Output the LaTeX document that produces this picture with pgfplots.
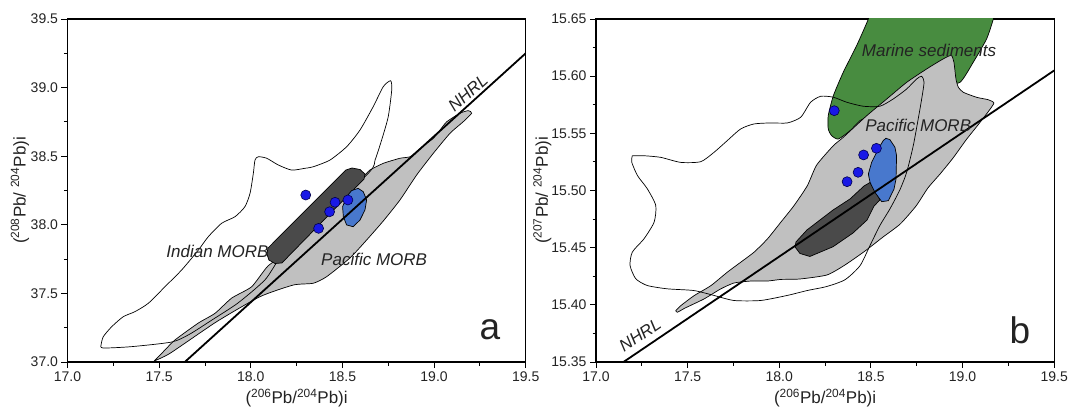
\documentclass[border=0pt]{standalone}
\usepackage{fontspec}
\setmainfont{Liberation Sans}
\usepackage{pgfplots}
\pgfplotsset{compat=1.18}
\definecolor{fgray}{RGB}{192,192,192}
\definecolor{fdark}{RGB}{74,74,74}
\definecolor{fblue}{RGB}{72,120,205}
\definecolor{fgreen}{RGB}{72,140,64}
\definecolor{dotblue}{RGB}{25,25,230}
\definecolor{txt}{RGB}{35,35,35}
\tikzset{
  fld/.style={draw=black, line width=0.7pt},
  lab/.style={font=\itshape\fontsize{17}{19}\selectfont, text=txt},
}
\pgfplotsset{
  panel/.style={
    scale only axis, width=458.2pt, height=343pt, anchor=south west,
    xmin=17, xmax=19.5, xtick={17,17.5,18,18.5,19,19.5}, minor x tick num=1,
    xtick pos=bottom, ytick pos=left, tick align=outside,
    major tick length=6pt, minor tick length=3.5pt,
    axis line style={line width=1.1pt},
    tick style={line width=0.9pt, black},
    ticklabel style={font=\fontsize{14}{16}\selectfont, text=txt},
    /pgf/number format/assume math mode=true,
    xticklabel style={/pgf/number format/.cd, fixed, fixed zerofill, precision=1},
    xlabel style={font=\fontsize{17}{19}\selectfont, text=txt, at={(axis description cs:0.5,-0.105)}, anchor=center},
    ylabel style={font=\fontsize{17}{19}\selectfont, text=txt, anchor=center},
    xlabel={(\textsuperscript{206}Pb/\textsuperscript{204}Pb)i},
  },
}
\begin{document}
\begin{tikzpicture}
\useasboundingbox (0,0) rectangle (1071pt,410pt);
% ---------------- panel a ----------------
\begin{axis}[panel, at={(67.5pt,48pt)},
  ymin=37, ymax=39.5, ytick={37,37.5,38,38.5,39,39.5}, minor y tick num=1,
  yticklabel style={/pgf/number format/.cd, fixed, fixed zerofill, precision=1},
  ylabel style={at={(axis description cs:-0.1037,0.5)}},
  ylabel={(\textsuperscript{208}Pb/ \textsuperscript{204}Pb)i}]
% Pacific MORB field
\addplot[fld, fill=fgray, smooth, tension=0.35] coordinates {
(17.472,37.007) (17.559,37.063) (17.814,37.294) (18.050,37.476) (18.232,37.561)
(18.341,37.574) (18.414,37.622) (18.541,37.758) (18.632,37.889) (18.723,38.028)
(18.814,38.181) (18.905,38.363) (18.996,38.521) (19.087,38.667) (19.159,38.751)
(19.205,38.813) (19.187,38.832) (19.141,38.813) (19.069,38.751) (19.033,38.691)
(18.996,38.630) (18.960,38.594) (18.914,38.545) (18.869,38.496) (18.814,38.485)
(18.723,38.448) (18.650,38.399) (18.623,38.363) (18.432,38.108) (18.214,37.816)
(18.094,37.700) (18.005,37.549) (17.896,37.466) (17.805,37.355) (17.714,37.284)
(17.586,37.160) (17.514,37.063) (17.472,37.007)};
% Indian MORB outline
\addplot[fld, smooth, tension=0.4] coordinates {
(17.183,37.124) (17.195,37.184) (17.241,37.257) (17.304,37.330) (17.368,37.367)
(17.441,37.428) (17.532,37.549) (17.623,37.671) (17.714,37.816) (17.768,37.913)
(17.841,38.011) (17.914,38.059) (17.968,38.132) (17.996,38.230) (18.014,38.375)
(18.023,38.472) (18.041,38.496) (18.087,38.485) (18.150,38.436) (18.223,38.399)
(18.296,38.412) (18.341,38.423) (18.432,38.472) (18.523,38.569) (18.596,38.691)
(18.668,38.861) (18.723,39.007) (18.763,39.050) (18.769,38.983) (18.750,38.788)
(18.714,38.618) (18.678,38.472) (18.641,38.375) (18.268,37.889) (18.159,37.758)
(18.077,37.598) (17.930,37.430) (17.788,37.306) (17.668,37.204) (17.570,37.146)
(17.350,37.112) (17.194,37.102) (17.183,37.124)};
% dark field
\addplot[fld, fill=fdark] coordinates {
(18.094,37.831) (18.519,38.399) (18.552,38.414) (18.596,38.403) (18.623,38.370)
(18.618,38.334) (18.170,37.722) (18.132,37.718) (18.099,37.743) (18.088,37.787)} -- cycle;
% blue field
\addplot[fld, fill=fblue] coordinates {
(18.586,38.266) (18.614,38.241) (18.632,38.181) (18.623,38.108) (18.596,38.035)
(18.559,37.986) (18.523,37.999) (18.505,38.059) (18.501,38.132) (18.523,38.205)
(18.550,38.249)} -- cycle;
% NHRL
\addplot[black, line width=1.8pt] coordinates {(17.64,37.0) (19.5,39.25)};
% samples
\addplot[only marks, mark=*, mark size=5pt, mark options={fill=dotblue, draw=black!70!blue, line width=0.6pt}] coordinates {
(18.30,38.217) (18.37,37.974) (18.43,38.095) (18.46,38.164) (18.53,38.181)};
\node[lab] at (axis cs:17.818,37.808) {Indian MORB};
\node[lab] at (axis cs:18.673,37.749) {Pacific MORB};
\node[lab, rotate=42] at (axis cs:19.185,38.961) {NHRL};
\node[font=\fontsize{37}{37}\selectfont, text=txt] at (axis cs:19.305,37.233) {a};
\end{axis}
% ---------------- panel b ----------------
\begin{axis}[panel, at={(596pt,48pt)},
  ymin=15.35, ymax=15.65, ytick={15.35,15.40,15.45,15.50,15.55,15.60,15.65}, minor y tick num=1,
  yticklabel style={/pgf/number format/.cd, fixed, fixed zerofill, precision=2},
  ylabel style={at={(axis description cs:-0.117,0.5)}},
  ylabel={(\textsuperscript{207}Pb/ \textsuperscript{204}Pb)i}]
% Marine sediments
\addplot[fld, fill=fgreen, smooth, tension=0.35] coordinates {
(18.495,15.6579) (18.486,15.6500) (18.422,15.6267) (18.349,15.6034) (18.295,15.5829)
(18.267,15.5654) (18.267,15.5538) (18.286,15.5479) (18.322,15.5450) (18.386,15.5523)
(18.440,15.5611) (18.477,15.5640) (18.660,15.5792) (18.877,15.5923) (18.986,15.5946)
(19.058,15.6121) (19.131,15.6325) (19.168,15.6500) (19.177,15.6579)};
% Pacific MORB
\addplot[fld, fill=fgray, smooth, tension=0.35] coordinates {
(17.435,15.3949) (17.462,15.3992) (17.535,15.4080) (17.626,15.4167) (17.716,15.4285)
(17.789,15.4372) (17.862,15.4460) (17.935,15.4576) (18.008,15.4722) (18.080,15.4867)
(18.153,15.5042) (18.204,15.5223) (18.295,15.5392) (18.349,15.5465) (18.477,15.5654)
(18.586,15.5800) (18.695,15.5946) (18.804,15.6063) (18.877,15.6135) (18.922,15.6174)
(18.941,15.6179) (18.953,15.6121) (18.964,15.5975) (18.977,15.5903) (19.004,15.5859)
(19.077,15.5815) (19.140,15.5794) (19.171,15.5765) (19.139,15.5687) (19.084,15.5573)
(19.019,15.5442) (18.948,15.5284) (18.877,15.5144) (18.811,15.5022) (18.746,15.4864)
(18.660,15.4707) (18.566,15.4593) (18.468,15.4471) (18.358,15.4348) (18.260,15.4261)
(18.113,15.4226) (18.008,15.4222) (17.935,15.4208) (17.844,15.4208) (17.753,15.4191)
(17.680,15.4139) (17.589,15.4051) (17.486,15.3972) (17.444,15.3935) (17.435,15.3949)};
% dark field
\addplot[fld, fill=fdark] coordinates {
(18.091,15.4550) (18.151,15.4655) (18.222,15.4742) (18.293,15.4829) (18.386,15.4926)
(18.462,15.5039) (18.495,15.5070) (18.527,15.4987) (18.549,15.4917) (18.517,15.4864)
(18.479,15.4742) (18.402,15.4628) (18.293,15.4508) (18.167,15.4423) (18.113,15.4449)
(18.086,15.4506)} -- cycle;
% blue field
\addplot[fld, fill=fblue] coordinates {
(18.582,15.5457) (18.604,15.5444) (18.631,15.5378) (18.640,15.5304) (18.637,15.5101)
(18.626,15.5013) (18.595,15.4911) (18.559,15.4902) (18.522,15.4984) (18.495,15.5072)
(18.486,15.5144) (18.504,15.5247) (18.540,15.5363) (18.567,15.5436)} -- cycle;
% Indian MORB outline
\addplot[fld, smooth, tension=0.4] coordinates {
(17.198,15.5304) (17.262,15.5304) (17.353,15.5290) (17.462,15.5246) (17.571,15.5252)
(17.644,15.5334) (17.716,15.5436) (17.789,15.5538) (17.862,15.5582) (17.953,15.5591)
(18.044,15.5591) (18.117,15.5641) (18.171,15.5772) (18.226,15.5824) (18.295,15.5816)
(18.368,15.5772) (18.458,15.5737) (18.549,15.5737) (18.622,15.5801) (18.695,15.5888)
(18.750,15.5976) (18.777,15.5999) (18.790,15.5947) (18.777,15.5801) (18.758,15.5626)
(18.731,15.5392) (18.695,15.5159) (18.658,15.5006) (18.604,15.4840) (18.549,15.4694)
(18.495,15.4519) (18.440,15.4341) (18.358,15.4219) (18.258,15.4160) (18.152,15.4125)
(18.043,15.4082) (17.898,15.4038) (17.753,15.4038) (17.644,15.4082) (17.534,15.4125)
(17.389,15.4140) (17.280,15.4169) (17.217,15.4228) (17.186,15.4344) (17.198,15.4461)
(17.262,15.4578) (17.317,15.4723) (17.326,15.4869) (17.280,15.5015) (17.226,15.5131)
(17.195,15.5248) (17.198,15.5304)};
% NHRL
\addplot[black, line width=1.8pt] coordinates {(17.15,15.350) (19.5,15.605)};
% samples
\addplot[only marks, mark=*, mark size=5pt, mark options={fill=dotblue, draw=black!70!blue, line width=0.6pt}] coordinates {
(18.30,15.5698) (18.37,15.5077) (18.43,15.5159) (18.46,15.5311) (18.53,15.5369)};
\node[lab] at (axis cs:18.817,15.6224) {Marine sediments};
\node[lab] at (axis cs:18.758,15.5567) {Pacific MORB};
\node[lab, rotate=34] at (axis cs:17.240,15.3736) {NHRL};
\node[font=\fontsize{37}{37}\selectfont, text=txt] at (axis cs:19.313,15.378) {b};
\end{axis}
\end{tikzpicture}
\end{document}
